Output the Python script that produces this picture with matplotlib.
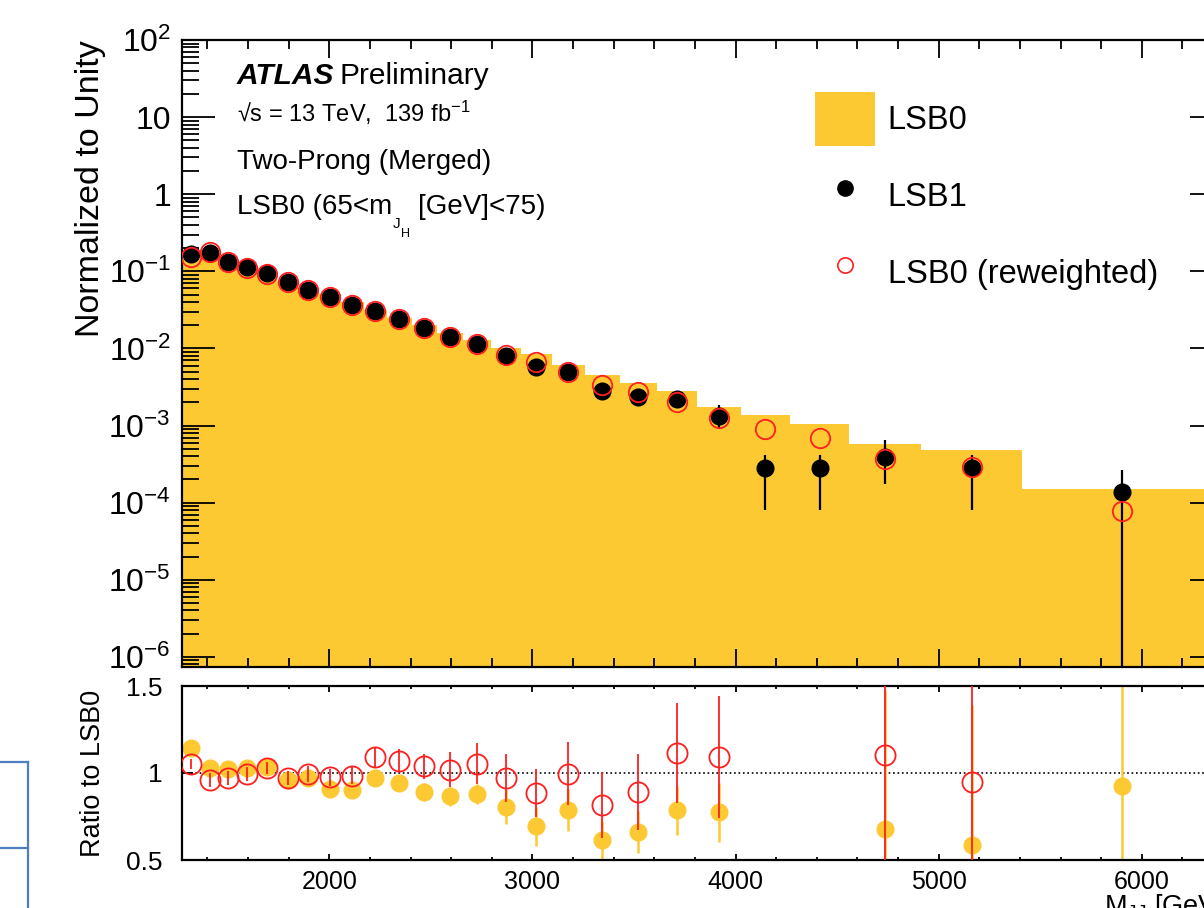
import numpy as np
import matplotlib
matplotlib.use('Agg')
import matplotlib.pyplot as plt
from matplotlib.patches import Patch
from matplotlib.lines import Line2D
from matplotlib.ticker import (FuncFormatter, MultipleLocator, LogLocator,
                               NullFormatter, FixedLocator)

plt.rcParams['font.family'] = ['Liberation Sans', 'DejaVu Sans']
plt.rcParams['mathtext.fontset'] = 'custom'
plt.rcParams['mathtext.rm'] = 'Liberation Sans'
plt.rcParams['mathtext.it'] = 'Liberation Sans:italic'
plt.rcParams['mathtext.bf'] = 'Liberation Sans:bold'

# M_JJ binning [GeV]
edges = [1275, 1365, 1456, 1549, 1645, 1744, 1845, 1948, 2056, 2169, 2285,
         2406, 2531, 2660, 2797, 2942, 3096, 3258, 3430, 3612, 3808, 4025,
         4270, 4560, 4914, 5410, 6400]

# LSB0 histogram (normalised)
lsb0 = [0.145, 0.166, 0.128, 0.110, 0.091, 0.0748, 0.0583, 0.0504, 0.0399,
        0.0312, 0.0252, 0.0204, 0.0161, 0.0129, 0.0101, 0.00841, 0.00619,
        0.00450, 0.00361, 0.00278, 0.00174, 0.00139, 0.00105, 0.00058,
        0.000485, 0.000150]

# LSB1 points with asymmetric errors
lsb1 = [0.166, 0.171, 0.131, 0.113, 0.094, 0.072, 0.0566, 0.0459, 0.0361,
        0.0303, 0.0238, 0.0182, 0.0139, 0.0113, 0.0081, 0.00583, 0.00488,
        0.00277, 0.00238, 0.00218, 0.00135, 0.000285, 0.000285, 0.000395,
        0.000285, 0.000139]
lsb1_lo = [0.002, 0.002, 0.0017, 0.0015, 0.0013, 0.001, 0.0009, 0.0008,
           0.0007, 0.0006, 0.0005, 0.0004, 0.0004, 0.0004, 0.0003, 0.00025,
           0.00025, 0.0006, 0.0005, 0.00048, 0.00041, 0.000204, 0.000204,
           0.00022, 0.000204, 0.000139]
lsb1_hi = [0.002, 0.002, 0.0017, 0.0015, 0.0013, 0.001, 0.0009, 0.0008,
           0.0007, 0.0006, 0.0005, 0.0004, 0.0004, 0.0004, 0.0003, 0.00025,
           0.00025, 0.0007, 0.0006, 0.00037, 0.00052, 0.000135, 0.000135,
           0.00026, 0.000135, 0.00013]

# LSB0 reweighted points
lsb0_rw = [0.155, 0.178, 0.131, 0.112, 0.093, 0.072, 0.058, 0.047, 0.037,
           0.031, 0.024, 0.0185, 0.0141, 0.0115, 0.0083, 0.0066, 0.0050,
           0.0034, 0.0027, 0.0020, 0.00127, 0.00091, 0.00068, 0.00037,
           0.00029, 0.000079]

# ratio panel (nan = outside the 0.5-1.5 window)
nan = np.nan
ratio_lsb1 = [1.144, 1.029, 1.023, 1.029, 1.033, 0.962, 0.971, 0.910, 0.904,
              0.971, 0.943, 0.891, 0.866, 0.879, 0.805, 0.693, 0.789, 0.613,
              0.659, 0.785, 0.774, nan, nan, 0.678, 0.588, 0.927]
ratio_lsb1_err = [0.02, 0.02, 0.02, 0.02, 0.025, 0.025, 0.03, 0.03, 0.035,
                  0.04, 0.045, 0.05, 0.055, 0.06, 0.10, 0.11, 0.12, 0.11,
                  0.12, 0.14, 0.17, nan, nan, 0.8, 0.8, 1.0]
ratio_rw = [1.052, 0.962, 0.971, 0.994, 1.029, 0.971, 0.994, 0.975, 0.985,
            1.090, 1.071, 1.038, 1.019, 1.054, 0.971, 0.885, 0.996, 0.815,
            0.891, 1.115, 1.090, nan, nan, 1.105, 0.948, nan]
ratio_rw_err = [0.03, 0.04, 0.04, 0.04, 0.035, 0.04, 0.045, 0.05, 0.05,
                0.06, 0.065, 0.07, 0.10, 0.12, 0.14, 0.14, 0.18, 0.19,
                0.22, 0.29, 0.35, nan, nan, 0.9, 0.9, nan]

YEL = '#fdc932'
RED = '#ff1f1f'

W, H = 1204, 908
def fx(x): return x / W
def fy(y): return 1 - y / H

centers = 0.5 * (np.array(edges[:-1]) + np.array(edges[1:]))

fig = plt.figure(figsize=(W / 100, H / 100), dpi=100)
ax = fig.add_axes([fx(182), fy(667), fx(1223) - fx(182), fy(40) - fy(667)])
axr = fig.add_axes([fx(182), fy(860), fx(1223) - fx(182), fy(686) - fy(860)])

# ---- main panel
ax.stairs(lsb0, edges, baseline=1e-12, fill=True, color=YEL, lw=0, zorder=1)
ax.errorbar(centers, lsb1, yerr=[lsb1_lo, lsb1_hi], fmt='o', color='black',
            ms=12, elinewidth=1.6, capsize=0, zorder=3)
ax.plot(centers, lsb0_rw, 'o', mfc='none', mec=RED, ms=14, mew=1.3, zorder=4)

ax.set_yscale('log')
ax.set_ylim(7.4e-7, 100)
ax.set_xlim(edges[0], edges[-1])

def yfmt(v, pos):
    e = int(round(np.log10(v)))
    if e == 0:
        return '1'
    if e == 1:
        return '10'
    return r'$10^{%d}$' % e

ax.yaxis.set_major_locator(LogLocator(base=10, numticks=20))
ax.yaxis.set_minor_locator(LogLocator(base=10, subs=np.arange(2, 10), numticks=20))
ax.yaxis.set_major_formatter(FuncFormatter(yfmt))
ax.yaxis.set_minor_formatter(NullFormatter())
ax.xaxis.set_major_locator(MultipleLocator(1000))
ax.xaxis.set_minor_locator(MultipleLocator(200))
ax.tick_params(which='both', direction='in', top=True, right=True,
               labelbottom=False, width=1.3)
ax.tick_params(axis='y', which='major', length=24, labelsize=23, pad=8)
ax.tick_params(axis='y', which='minor', length=12)
ax.tick_params(axis='x', which='major', length=13)
ax.tick_params(axis='x', which='minor', length=6.5)
for s in ax.spines.values():
    s.set_linewidth(1.6)

ax.set_ylabel('Normalized to Unity', fontsize=24.5, loc='top')
ax.yaxis.set_label_coords(-0.073, 1.0)

# ---- ratio panel
axr.axhline(1.0, color='black', ls=':', lw=1.2, zorder=1)
axr.errorbar(centers, ratio_lsb1, yerr=ratio_lsb1_err, fmt='o', color=YEL,
             ms=12, elinewidth=1.8, capsize=0, zorder=2)
axr.errorbar(centers, ratio_rw, yerr=ratio_rw_err, fmt='o', color=RED,
             mfc='none', mec=RED, ms=14.5, mew=1.3, elinewidth=1.3, capsize=0,
             zorder=3)
axr.set_xlim(edges[0], edges[-1])
axr.set_ylim(0.5, 1.5)
axr.yaxis.set_major_locator(FixedLocator([0.5, 1.0, 1.5]))
axr.yaxis.set_major_formatter(FuncFormatter(lambda v, p: '%g' % v))
axr.xaxis.set_major_locator(MultipleLocator(1000))
axr.xaxis.set_minor_locator(MultipleLocator(200))
axr.tick_params(which='both', direction='in', top=True, right=True, width=1.3)
axr.tick_params(axis='y', which='major', length=8, labelsize=19, pad=14)
axr.tick_params(axis='x', which='major', length=4.5, labelsize=18, pad=7)
axr.tick_params(axis='x', which='minor', length=2.5)
for s in axr.spines.values():
    s.set_linewidth(1.6)
axr.set_ylabel('Ratio to LSB0', fontsize=19.5)
axr.yaxis.set_label_coords(-0.073, 0.5)
axr.set_xlabel(r'M$_{\mathrm{JJ}}$ [GeV]', fontsize=19.5, loc='right',
               labelpad=-1)

# ---- labels
fig.text(fx(237), fy(84), 'ATLAS', fontsize=21.5, fontweight='bold',
         style='italic', va='baseline')
fig.text(fx(339), fy(84), 'Preliminary', fontsize=21.5, va='baseline')
fig.text(fx(237), fy(122), '\u221as = 13 TeV,  139 fb$^{-1}$', fontsize=17,
         va='baseline')
fig.text(fx(237), fy(169), 'Two-Prong (Merged)', fontsize=20, va='baseline')
fig.text(fx(237), fy(214), 'LSB0 (65<m', fontsize=20, va='baseline')
fig.text(fx(393), fy(228), 'J', fontsize=11, va='baseline')
fig.text(fx(401), fy(237), 'H', fontsize=9, va='baseline')
fig.text(fx(418), fy(214), '[GeV]<75)', fontsize=20, va='baseline')

handles = [Patch(facecolor=YEL, edgecolor='none'),
           Line2D([], [], marker='o', color='black', ls='none', ms=11),
           Line2D([], [], marker='o', mfc='none', mec=RED, ls='none', ms=11,
                  mew=1.2)]
fig.legend(handles, ['LSB0', 'LSB1', 'LSB0 (reweighted)'], loc='upper left',
           bbox_to_anchor=(fx(815), fy(92)), frameon=False, fontsize=23.5,
           handlelength=1.83, handleheight=2.15, handletextpad=0.4,
           labelspacing=0.72, borderpad=0, borderaxespad=0)

# blue frame fragment at the left edge of the screenshot
for xs, ys in [([0, 28], [762, 762]), ([28, 28], [762, 908]), ([0, 28], [848, 848])]:
    fig.add_artist(Line2D([fx(x) for x in xs], [fy(y) for y in ys],
                          color='#4f7fbf', lw=1.6))

fig.savefig('out.png', dpi=100)
